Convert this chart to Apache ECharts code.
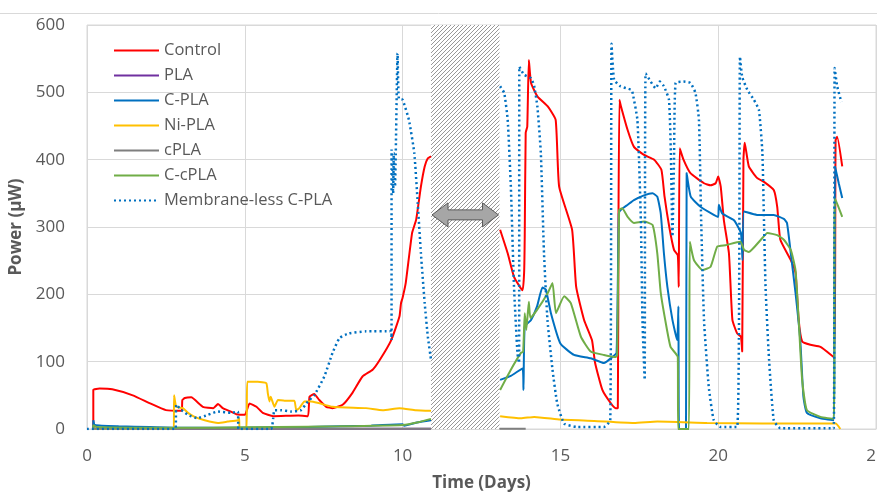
<!DOCTYPE html>
<html>
<head>
<meta charset="utf-8">
<script src="https://cdn.jsdelivr.net/npm/echarts@6/dist/echarts.min.js"></script>
<style>html,body{margin:0;padding:0;background:#fff}#c{width:877px;height:492px}</style>
</head>
<body>
<div id="c"></div>
<script>
// ---- data (days, µW) ----
var xTicks = [0, 5, 10, 15, 20, 25];
var yTicks = [0, 100, 200, 300, 400, 500, 600];
var seriesNames = ['Control', 'PLA', 'C-PLA', 'Ni-PLA', 'cPLA', 'C-cPLA', 'Membrane-less C-PLA'];
var gapRange = [10.9, 13.07];
var arrowLevel = 318;

var controlData = [[0.2,0],[0.2,58],[0.4,60],[0.8,59],[1.45,50],[2.0,38],[2.5,28],[3.0,27],[3.02,43],[3.1,46],[3.3,47],[3.67,33],[4.0,31],[4.15,37],[4.3,31],[4.5,27],[4.73,22],[5.0,21],[5.15,38],[5.37,33],[5.57,24],[5.9,19],[6.7,20],[7.0,19],[7.05,48],[7.2,52],[7.36,43],[7.58,33],[7.78,31],[8.1,36],[8.4,53],[8.73,78],[9.05,88],[9.27,102],[9.64,132],[9.9,167],[9.95,187],[10.0,195],[10.1,217],[10.3,291],[10.43,311],[10.58,360],[10.7,390],[10.8,402],[10.9,405],[12,null],
[13.09,296],[13.33,261],[13.53,226],[13.8,206],[13.85,232],[13.87,286],[13.9,440],[13.95,449],[14.0,548],[14.07,514],[14.27,494],[14.6,479],[14.85,459],[14.96,360],[15.37,296],[15.5,211],[15.75,162],[16.0,132],[16.1,98],[16.33,58],[16.6,38],[16.75,31],[16.82,31],[16.84,310],[16.87,489],[16.92,479],[17.13,444],[17.33,419],[17.65,407],[17.97,400],[18.2,385],[18.3,345],[18.45,300],[18.6,266],[18.72,258],[18.75,211],[18.78,417],[18.9,400],[19.12,380],[19.55,365],[19.76,362],[19.92,365],[20.0,375],[20.08,360],[20.18,310],[20.34,261],[20.45,162],[20.6,142],[20.72,137],[20.76,115],[20.8,400],[20.84,425],[20.97,390],[21.23,373],[21.45,367],[21.76,355],[21.87,330],[21.97,281],[22.3,251],[22.45,232],[22.55,162],[22.66,130],[22.92,125],[23.24,122],[23.66,107],[23.72,429],[23.77,434],[23.93,390]];

var plaData = [[0.2,0.5],[3,0.5],[6,0.5],[9,0.5],[10.9,0.5]];

var cplaData = [[0.2,0],[0.2,13],[0.25,6],[1,4],[2,3],[3,2],[5,2],[7,3],[9,5],[10,7],[10.05,5],[10.5,10],[10.9,13],[12,null],
[13.09,73],[13.43,79],[13.8,90],[13.83,58],[13.87,152],[14.07,162],[14.26,182],[14.43,210],[14.54,207],[14.7,172],[15.0,127],[15.43,110],[15.96,105],[16.38,98],[16.65,107],[16.78,113],[16.85,320],[16.9,325],[17.13,333],[17.33,340],[17.65,347],[17.92,350],[18.07,345],[18.18,320],[18.28,261],[18.39,211],[18.55,162],[18.7,132],[18.74,182],[18.76,0],[18.98,0],[19.0,380],[19.13,345],[19.44,330],[19.86,318],[20.0,315],[20.02,333],[20.13,320],[20.5,310],[20.72,291],[20.77,251],[20.82,323],[21.23,318],[21.76,318],[22.08,312],[22.18,306],[22.3,261],[22.45,202],[22.6,132],[22.7,48],[22.81,24],[23.24,16],[23.66,13],[23.7,390],[23.82,365],[23.93,343]];

var niplaData = [[0.2,0],[2.75,0],[2.76,50],[2.83,33],[3.04,31],[3.2,24],[3.41,18],[3.73,13],[4.15,9],[4.46,11],[4.78,13],[4.82,16],[4.84,0],[5.05,0],[5.08,70],[5.41,70],[5.68,68],[5.73,53],[5.78,41],[5.82,48],[5.94,33],[6.05,43],[6.26,42],[6.57,42],[6.63,28],[6.73,31],[6.89,41],[7.1,41],[7.3,39],[7.78,33],[8.84,31],[9.37,28],[9.9,31],[10.42,28],[10.9,27],[12,null],
[13.09,19],[13.75,16],[14.17,18],[15.0,14],[16.07,12],[17.33,9],[18.07,11],[19.65,9],[21.4,8],[23.72,8],[23.87,0]];

var cplaGrayData = [[0.2,0.5],[4,0.5],[8,0.5],[10.9,0.5],[12,null],[13.07,0.5],[13.9,0.5]];

var ccplaData = [[0.2,0],[0.2,6],[0.3,3],[2,2],[4,2],[6,3],[8,4],[10,6],[10.5,10],[10.9,15],[12,null],
[13.09,58],[13.43,88],[13.75,113],[13.82,115],[13.87,172],[13.92,147],[14.0,189],[14.05,165],[14.26,177],[14.6,202],[14.75,217],[14.86,172],[15.12,197],[15.33,187],[15.65,137],[15.96,115],[16.38,110],[16.75,107],[16.8,110],[16.86,325],[16.96,328],[17.13,315],[17.33,306],[17.65,308],[17.92,303],[18.07,261],[18.18,202],[18.34,157],[18.49,122],[18.72,107],[18.73,0],[19.07,0],[19.1,278],[19.23,251],[19.5,236],[19.76,241],[19.97,271],[20.23,273],[20.7,278],[20.82,266],[20.97,263],[21.35,281],[21.56,291],[21.87,288],[22.08,281],[22.3,266],[22.45,236],[22.55,162],[22.66,73],[22.81,28],[23.24,18],[23.66,15],[23.7,343],[23.93,315]];

var membranelessData = [[0,0],[2.8,0],[2.83,36],[3.0,28],[3.2,21],[3.5,16],[3.83,21],[4.15,26],[4.57,24],[4.78,26],[4.8,0],[5.83,0],[5.9,16],[5.94,28],[6.15,28],[6.47,26],[6.78,28],[7.0,41],[7.2,50],[7.52,78],[7.78,113],[8.0,135],[8.3,142],[8.84,145],[9.63,145],[9.65,132],[9.65,415],[9.7,350],[9.72,410],[9.76,360],[9.84,558],[9.88,491],[10.0,489],[10.2,459],[10.37,410],[10.48,335],[10.58,261],[10.7,187],[10.8,137],[10.9,103],[12,null],
[13.09,509],[13.22,499],[13.33,459],[13.43,360],[13.53,211],[13.64,112],[13.69,98],[13.7,538],[13.85,526],[14.07,521],[14.17,509],[14.27,479],[14.38,410],[14.48,261],[14.59,162],[14.75,88],[14.9,38],[15.12,8],[15.54,3],[16.38,3],[16.58,13],[16.62,572],[16.7,519],[16.9,509],[17.23,504],[17.28,501],[17.44,459],[17.55,310],[17.6,162],[17.67,73],[17.7,528],[17.86,516],[18.02,506],[18.15,516],[18.28,509],[18.44,489],[18.5,410],[18.55,286],[18.6,400],[18.65,514],[18.9,516],[19.12,514],[19.28,499],[19.39,459],[19.46,310],[19.55,162],[19.7,63],[19.86,13],[20.08,3],[20.6,3],[20.69,553],[20.76,523],[20.92,504],[21.13,489],[21.29,474],[21.4,410],[21.45,310],[21.5,211],[21.6,112],[21.76,13],[21.97,1],[23.66,1],[23.69,536],[23.77,509],[23.9,486]];

var colors = ['#FF0000', '#7030A0', '#0070C0', '#FFC000', '#7F7F7F', '#70AD47', '#0070C0'];
var dataList = [controlData, plaData, cplaData, niplaData, cplaGrayData, ccplaData, membranelessData];

// hatch pattern
var pc = document.createElement('canvas');
pc.width = 4; pc.height = 4;
var g = pc.getContext('2d');
g.fillStyle = '#ffffff'; g.fillRect(0, 0, 4, 4);
g.strokeStyle = '#8c8c8c'; g.lineWidth = 0.9;
g.beginPath(); g.moveTo(0, 4); g.lineTo(4, 0); g.moveTo(-1, 1); g.lineTo(1, -1); g.moveTo(3, 5); g.lineTo(5, 3); g.stroke();

var FONT = 'Open Sans';
var series = seriesNames.map(function (n, i) {
  return {
    name: n, type: 'line', data: dataList[i], symbol: 'none', showSymbol: false, connectNulls: false,
    smooth: 0.15,
    lineStyle: { color: colors[i], width: i === 6 ? 2.5 : 2, type: i === 6 ? [2, 3] : 'solid' },
    itemStyle: { color: colors[i] },
    z: 2 + i, animation: false
  };
});
series.push({
  name: 'gap', type: 'line', data: [], z: 20, animation: false,
  markArea: { silent: true, itemStyle: { color: { image: pc, repeat: 'repeat' } },
    data: [[{ xAxis: gapRange[0] }, { xAxis: gapRange[1] }]] }
});

var chart = echarts.init(document.getElementById('c'), null, { renderer: 'canvas' });
chart.setOption({
  animation: false,
  color: colors,
  textStyle: { fontFamily: FONT },
  grid: { left: 87, right: 1, top: 25, bottom: 63, show: true, borderColor: '#D9D9D9', borderWidth: 1,
    containLabel: false, outerBoundsMode: 'none' },
  legend: {
    data: seriesNames, orient: 'vertical', left: 108, top: 37, itemWidth: 45, itemHeight: 14, itemGap: 8,
    itemStyle: { opacity: 0 },
    textStyle: { fontSize: 16.5, lineHeight: 14, color: '#595959', fontFamily: FONT }
  },
  xAxis: {
    type: 'value', min: xTicks[0], max: xTicks[xTicks.length - 1], interval: 5,
    name: 'Time (Days)', nameLocation: 'middle', nameGap: 46,
    nameTextStyle: { fontSize: 17, fontWeight: 'bold', color: '#595959', fontFamily: FONT },
    axisLine: { lineStyle: { color: '#D9D9D9' } }, axisTick: { show: false },
    axisLabel: { fontSize: 17, color: '#595959', margin: 19, fontFamily: FONT, hideOverlap: false },
    splitLine: { lineStyle: { color: '#D9D9D9' } }
  },
  yAxis: {
    type: 'value', min: yTicks[0], max: yTicks[yTicks.length - 1], interval: 100,
    name: 'Power (µW)', nameLocation: 'middle', nameGap: 56, nameRotate: 90,
    nameTextStyle: { fontSize: 17, fontWeight: 'bold', color: '#595959', fontFamily: FONT },
    axisLine: { show: false }, axisTick: { show: false },
    axisLabel: { fontSize: 17, color: '#595959', margin: 22, fontFamily: FONT },
    splitLine: { lineStyle: { color: '#D9D9D9' } }
  },
  series: series
});

var p1 = chart.convertToPixel({ gridIndex: 0 }, [gapRange[0], arrowLevel]);
var p2 = chart.convertToPixel({ gridIndex: 0 }, [gapRange[1], arrowLevel]);
var cy = p1[1], xa = p1[0] + 1, xb = p2[0] - 1, hw = 16, hh = 12, sh = 5;
chart.setOption({
  graphic: [
    { type: 'line', z: 100, shape: { x1: 0, y1: 13.5, x2: 877, y2: 13.5 }, style: { stroke: '#D9D9D9', lineWidth: 1 } },
    { type: 'polygon', z: 100, shape: { points: [
      [xa, cy], [xa + hw, cy - hh], [xa + hw, cy - sh], [xb - hw, cy - sh], [xb - hw, cy - hh], [xb, cy],
      [xb - hw, cy + hh], [xb - hw, cy + sh], [xa + hw, cy + sh], [xa + hw, cy + hh]] },
      style: { fill: '#A6A6A6', stroke: '#595959', lineWidth: 1 } }
  ]
});
</script>
</body>
</html>
